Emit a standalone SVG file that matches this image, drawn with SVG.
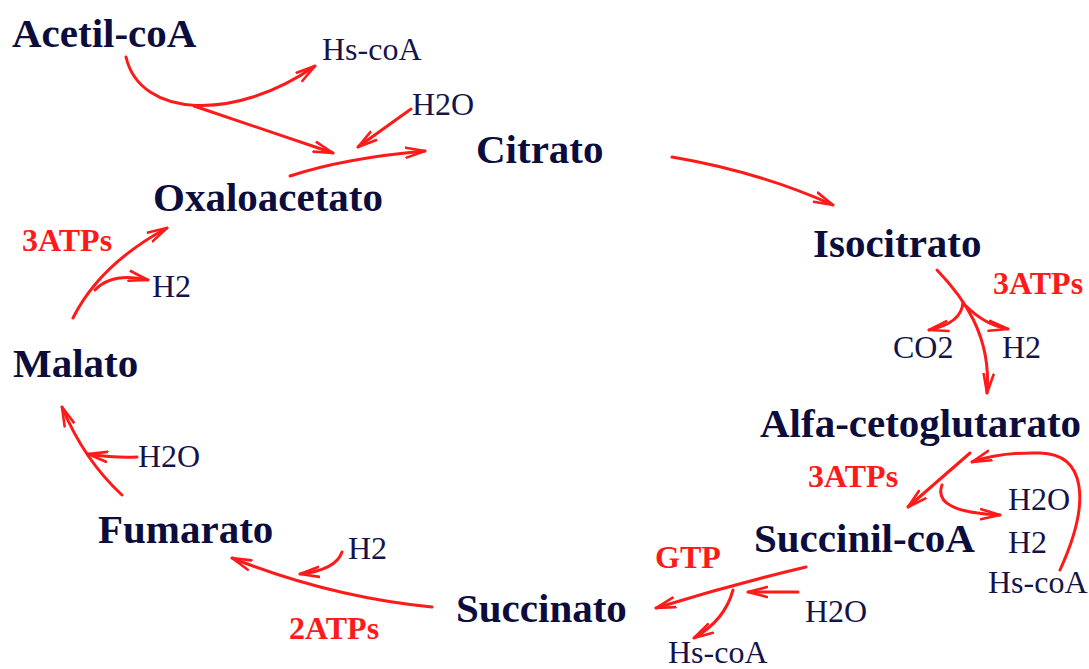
<svg xmlns="http://www.w3.org/2000/svg" width="1089" height="669" viewBox="0 0 1089 669">
<defs>
<style>
.n{font-family:"Liberation Serif","Times New Roman",serif;font-weight:bold;font-size:41px;fill:#0d0d3d}
.s{font-family:"Liberation Serif","Times New Roman",serif;font-size:32px;fill:#14144a}
.r{font-family:"Liberation Serif","Times New Roman",serif;font-weight:bold;font-size:32px;fill:#ff1a1a}
.c{fill:none;stroke:#ff1a1a;stroke-width:3;stroke-linecap:round;marker-end:url(#ah)}
</style>
<marker id="ah" markerUnits="userSpaceOnUse" markerWidth="24" markerHeight="16" refX="20" refY="7" orient="auto" viewBox="0 0 24 14">
<path d="M1,2 L20,7 L1,12" fill="none" stroke="#ff1a1a" stroke-width="2.6" stroke-linecap="round" stroke-linejoin="round"/>
</marker>
</defs>
<rect width="1089" height="669" fill="#ffffff"/>
<g id="connectors">
<path class="c" d="M126,57 C140,118 235,122 315,66"/>
<path class="c" d="M194,106 L333,153"/>
<path class="c" d="M411,109 L358,147"/>
<path class="c" d="M290,176 Q345,158 425,151"/>
<path class="c" d="M672,157 Q760,172 833,205"/>
<path class="c" d="M937,270 C962,296 992,335 987,393"/>
<path class="c" d="M963,302 Q962,323 929,330"/>
<path class="c" d="M966,306 Q985,325 1008,329"/>
<path class="c" d="M970,453 L908,507"/>
<path class="c" d="M942,485 Q932,512 1000,515"/>
<path class="c" d="M1060,570 C1092,500 1085,454 1040,453 Q1000,452 972,462"/>
<path class="c" d="M806,567 Q730,585 656,608"/>
<path class="c" d="M798,592 L748,592"/>
<path class="c" d="M733,590 Q725,620 694,638"/>
<path class="c" d="M432,607 Q330,597 232,558"/>
<path class="c" d="M342,552 Q336,570 300,574"/>
<path class="c" d="M122,495 Q84,460 62,407"/>
<path class="c" d="M137,457 Q115,458 88,454"/>
<path class="c" d="M73,318 Q100,264 167,228"/>
<path class="c" d="M95,290 Q112,272 148,280"/>
</g>
<g id="acetil-coa"><text class="n" x="12" y="47">Acetil-coA</text></g>
<g id="hs-coa-1"><text class="s" x="322" y="60">Hs-coA</text></g>
<g id="h2o-1"><text class="s" x="412" y="115">H2O</text></g>
<g id="citrato"><text class="n" x="476" y="163">Citrato</text></g>
<g id="oxaloacetato"><text class="n" x="153" y="211">Oxaloacetato</text></g>
<g id="isocitrato"><text class="n" x="813" y="257">Isocitrato</text></g>
<g id="atp-iso"><text class="r" x="993" y="294">3ATPs</text></g>
<g id="co2"><text class="s" x="893" y="358">CO2</text></g>
<g id="h2-iso"><text class="s" x="1002" y="358">H2</text></g>
<g id="alfa"><text class="n" x="760" y="437">Alfa-cetoglutarato</text></g>
<g id="atp-alfa"><text class="r" x="808" y="487">3ATPs</text></g>
<g id="h2o-alfa"><text class="s" x="1008" y="510">H2O</text></g>
<g id="h2-alfa"><text class="s" x="1008" y="553">H2</text></g>
<g id="hs-coa-alfa"><text class="s" x="988" y="593">Hs-coA</text></g>
<g id="succinil-coa"><text class="n" x="754" y="552">Succinil-coA</text></g>
<g id="gtp"><text class="r" x="655" y="568">GTP</text></g>
<g id="h2o-succ"><text class="s" x="805" y="622">H2O</text></g>
<g id="hs-coa-succ"><text class="s" x="668" y="663">Hs-coA</text></g>
<g id="succinato"><text class="n" x="456" y="622">Succinato</text></g>
<g id="atp-succ"><text class="r" x="289" y="639">2ATPs</text></g>
<g id="h2-fum"><text class="s" x="348" y="559">H2</text></g>
<g id="fumarato"><text class="n" x="98" y="543">Fumarato</text></g>
<g id="h2o-fum"><text class="s" x="138" y="467">H2O</text></g>
<g id="malato"><text class="n" x="13" y="377">Malato</text></g>
<g id="h2-mal"><text class="s" x="152" y="297">H2</text></g>
<g id="atp-mal"><text class="r" x="22" y="251">3ATPs</text></g>
</svg>
